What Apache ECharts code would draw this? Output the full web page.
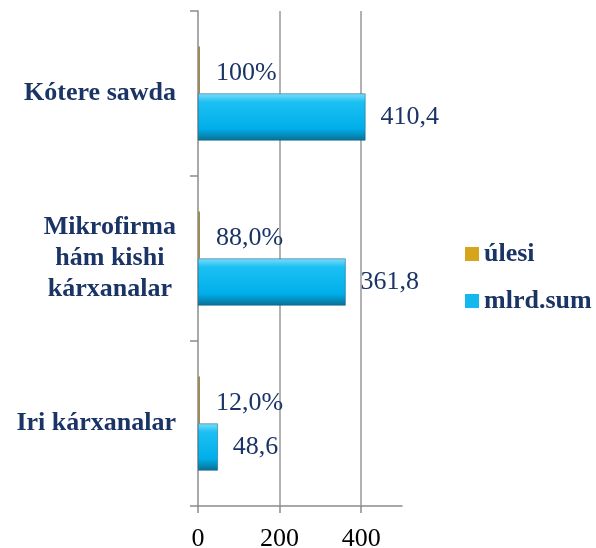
<!DOCTYPE html>
<html>
<head>
<meta charset="utf-8">
<script src="https://cdn.jsdelivr.net/npm/echarts@6/dist/echarts.min.js"></script>
<style>
  html, body { margin: 0; padding: 0; background: #fff; }
  #chart { width: 596px; height: 548px; }
</style>
</head>
<body>
<div id="chart"></div>
<script>
var categories = ['Iri kárxanalar', 'Mikrofirma\nhám kishi\nkárxanalar', 'Kótere sawda'];
var ulesi = [0.12, 0.88, 1.0];
var mlrdSum = [48.6, 361.8, 410.4];
var xTicks = [0, 200, 400];

var navy = '#1b3466';
var serif = '"Liberation Serif", "Times New Roman", serif';

function pct(v) {
    return v === 1 ? '100%' : (v * 100).toFixed(1).replace('.', ',') + '%';
}

var blueFill = new echarts.graphic.LinearGradient(0, 0, 0, 1, [
    { offset: 0, color: '#7fdcfa' },
    { offset: 0.18, color: '#1cc0f3' },
    { offset: 0.75, color: '#00aee9' },
    { offset: 1, color: '#0a6f95' }
]);

var chart = echarts.init(document.getElementById('chart'));
var option = {
    animation: false,
    textStyle: { fontFamily: serif },
    grid: { left: 198, right: 194, top: 11, bottom: 42, outerBoundsMode: 'none' },
    legend: {
        orient: 'vertical',
        left: 460,
        top: 236,
        itemWidth: 14,
        itemHeight: 14,
        itemGap: 21,
        icon: 'rect',
        textStyle: { fontFamily: serif, fontSize: 26, fontWeight: 'bold', color: navy },
        data: [
            { name: 'úlesi', icon: 'rect', itemStyle: { color: '#d6a51c', borderWidth: 0 } },
            { name: 'mlrd.sum', icon: 'rect', itemStyle: { color: '#14b8ee', borderWidth: 0 } }
        ]
    },
    xAxis: {
        type: 'value',
        min: 0,
        max: 500,
        interval: 200,
        axisLine: { show: true, lineStyle: { color: '#8c8c8c', width: 1.5 } },
        axisTick: { show: true, length: 7, customValues: xTicks, lineStyle: { color: '#8c8c8c', width: 1.5 } },
        axisLabel: {
            customValues: xTicks,
            fontFamily: serif, fontSize: 26, color: '#000', margin: 20
        },
        splitLine: { show: true, showMinLine: false, lineStyle: { color: '#999', width: 1.5 } }
    },
    yAxis: {
        type: 'category',
        data: categories,
        axisLine: { show: true, lineStyle: { color: '#8c8c8c', width: 1.5 } },
        axisTick: { show: true, length: 8, lineStyle: { color: '#8c8c8c', width: 1.5 } },
        axisLabel: {
            margin: 22,
            formatter: function (v) {
                return v.split('\n').map(function (s) { return '{a|' + s + '}'; }).join('\n');
            },
            rich: {
                a: { fontFamily: serif, fontSize: 26, fontWeight: 'bold', color: navy, align: 'center', lineHeight: 31 }
            }
        }
    },
    series: [
        {
            name: 'úlesi',
            type: 'bar',
            data: ulesi,
            barGap: '0%',
            barCategoryGap: '43%',
            barMinHeight: 2,
            itemStyle: { color: '#9c8a5a' },
            label: {
                show: true,
                position: 'right',
                distance: 16,
                offset: [0, 3],
                fontFamily: serif,
                fontSize: 26,
                color: navy,
                formatter: function (p) { return pct(p.value); }
            }
        },
        {
            name: 'mlrd.sum',
            type: 'bar',
            data: mlrdSum,
            barGap: '0%',
            barCategoryGap: '43%',
            itemStyle: {
                color: blueFill,
                borderColor: '#0a5d80',
                borderWidth: 0.5
            },
            label: {
                show: true,
                position: 'right',
                distance: 15,
                fontFamily: serif,
                fontSize: 26,
                color: navy,
                formatter: function (p) { return String(p.value).replace('.', ','); }
            }
        }
    ]
};
chart.setOption(option);
</script>
</body>
</html>
